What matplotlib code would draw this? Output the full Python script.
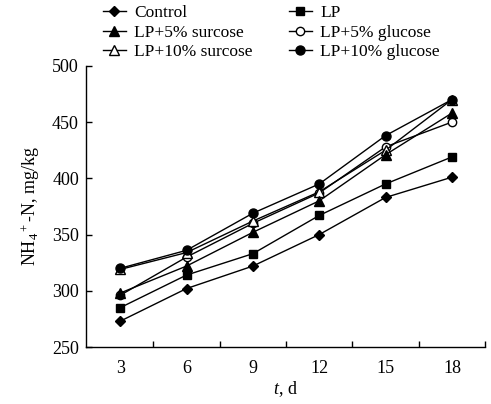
import matplotlib
matplotlib.use("Agg")
import matplotlib.pyplot as plt
from matplotlib.ticker import FixedLocator

plt.rcParams['font.family'] = ['Liberation Serif', 'DejaVu Serif']
plt.rcParams['mathtext.fontset'] = 'custom'
plt.rcParams['mathtext.rm'] = 'Liberation Serif'
plt.rcParams['mathtext.it'] = 'Liberation Serif:italic'

days = [3, 6, 9, 12, 15, 18]
control = [273, 302, 322, 350, 383, 401]
lp = [285, 314, 333, 367, 395, 419]
lp_5_sucrose = [298, 322, 352, 380, 421, 458]
lp_5_glucose = [296, 330, 360, 387, 428, 450]
lp_10_sucrose = [319, 334, 362, 388, 425, 470]
lp_10_glucose = [320, 336, 369, 395, 438, 470]

labels = ["Control", "LP", "LP+5% surcose", "LP+5% glucose",
          "LP+10% surcose", "LP+10% glucose"]
yticks = [250, 300, 350, 400, 450, 500]
xticks = [3, 6, 9, 12, 15, 18]

fig = plt.figure(figsize=(4.91, 4.04), dpi=100)
ax = fig.add_axes([0.175, 0.141, 0.813, 0.696])

lw = 1.0
h = {}
h["Control"], = ax.plot(days, control, color='black', lw=lw, marker='D', ms=5, mfc='black', mec='black')
h["LP"], = ax.plot(days, lp, color='black', lw=lw, marker='s', ms=6, mfc='black', mec='black')
h["LP+5% glucose"], = ax.plot(days, lp_5_glucose, color='black', lw=lw, marker='o', ms=6, mfc='white', mec='black', mew=1.0)
h["LP+10% surcose"], = ax.plot(days, lp_10_sucrose, color='black', lw=lw, marker='^', ms=6.5, mfc='white', mec='black', mew=1.0)
h["LP+5% surcose"], = ax.plot(days, lp_5_sucrose, color='black', lw=lw, marker='^', ms=6.5, mfc='black', mec='black')
h["LP+10% glucose"], = ax.plot(days, lp_10_glucose, color='black', lw=lw, marker='o', ms=6.5, mfc='black', mec='black')

ax.set_xlim(1.45, 19.5)
ax.set_ylim(250, 500)
ax.spines['top'].set_visible(False)
ax.spines['right'].set_visible(False)
for s in ['left', 'bottom']:
    ax.spines[s].set_linewidth(1.0)

ax.set_yticks(yticks)
ax.tick_params(axis='y', direction='in', length=4, width=1.0, labelsize=13, pad=5)
ax.set_xticks(xticks)
ax.tick_params(axis='x', which='major', length=0, labelsize=13, pad=9)
ax.xaxis.set_minor_locator(FixedLocator([4.5, 7.5, 10.5, 13.5, 16.5, 19.5]))
ax.tick_params(axis='x', which='minor', direction='in', length=4, width=1.0)

ax.set_xlabel(r"$\mathit{t}$, d", fontsize=13, labelpad=2)
ax.set_ylabel(r"NH$_4$$^+$-N, mg/kg", fontsize=13, labelpad=7)

col1 = ["Control", "LP+5% surcose", "LP+10% surcose"]
col2 = ["LP", "LP+5% glucose", "LP+10% glucose"]
common = dict(frameon=False, loc='upper left', fontsize=12.5, handlelength=1.3,
              handletextpad=0.5, labelspacing=0.2, borderpad=0.0, borderaxespad=0.0)
leg1 = fig.legend([h[k] for k in col1], col1, bbox_to_anchor=(103 / 491, 1 - 5 / 404), **common)
leg2 = fig.legend([h[k] for k in col2], col2, bbox_to_anchor=(289 / 491, 1 - 5 / 404), **common)

fig.savefig("out.png", dpi=100)
